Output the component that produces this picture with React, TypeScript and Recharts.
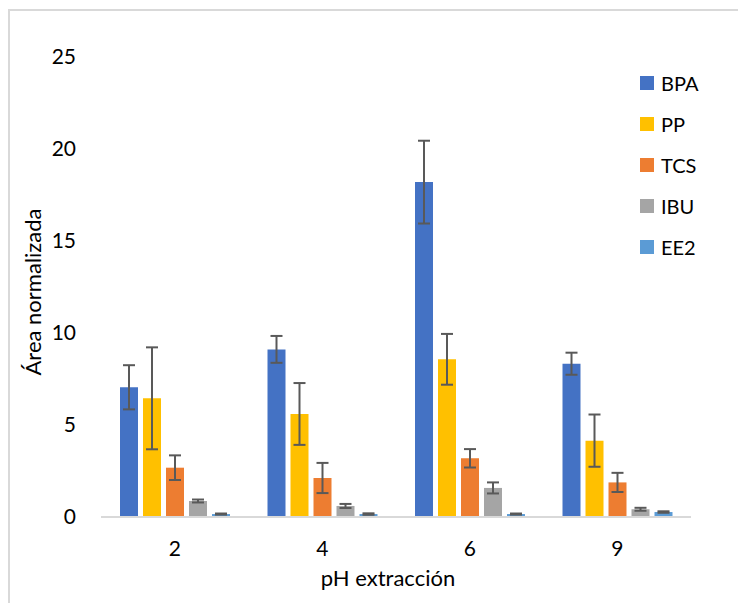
import React from 'react';
import { BarChart, Bar, XAxis, YAxis, ErrorBar } from 'recharts';

// ─── Data ─────────────────────────────────────────────────────────────────────

const categories = ['2', '4', '6', '9'];
const seriesNames = ['BPA', 'PP', 'TCS', 'IBU', 'EE2'];
const seriesColors = ['#4472C4', '#FFC000', '#ED7D31', '#A5A5A5', '#5B9BD5'];

const bpa = [7.05, 9.11, 18.2, 8.33];
const bpaErr = [1.2, 0.73, 2.25, 0.6];
const pp = [6.45, 5.6, 8.57, 4.15];
const ppErr = [2.77, 1.68, 1.38, 1.42];
const tcs = [2.68, 2.12, 3.19, 1.88];
const tcsErr = [0.67, 0.82, 0.5, 0.52];
const ibu = [0.87, 0.6, 1.58, 0.42];
const ibuErr = [0.08, 0.11, 0.3, 0.08];
const ee2 = [0.16, 0.16, 0.16, 0.27];
const ee2Err = [0.03, 0.04, 0.03, 0.04];

const yTicks = [0, 5, 10, 15, 20, 25];

const values = [bpa, pp, tcs, ibu, ee2];
const errors = [bpaErr, ppErr, tcsErr, ibuErr, ee2Err];

const data = categories.map((ph, i) => {
  const row: any = { ph };
  seriesNames.forEach((name, s) => {
    row[name] = values[s][i];
    row[`${name}_err`] = errors[s][i];
  });
  return row;
});

const FONT = 'Lato, "Open Sans", sans-serif';

// ─── Legend (HTML, so it doesn't shrink the plot) ─────────────────────────────

const LegendBox = () => (
  <div style={{ position: 'absolute', left: 640, top: 62, fontFamily: FONT }}>
    {seriesNames.map((name, i) => (
      <div key={name} style={{ display: 'flex', alignItems: 'center', height: 41 }}>
        <span style={{ width: 14, height: 14, background: seriesColors[i], marginRight: 7 }} />
        <span style={{ fontSize: 20, color: '#000' }}>{name}</span>
      </div>
    ))}
  </div>
);

export default function App() {
  return (
    <div style={{ position: 'absolute', left: 0, top: 0, width: 738, height: 603, overflow: 'hidden', background: '#fff' }}>
      <div
        style={{
          position: 'absolute',
          left: 8,
          top: 9,
          width: 760,
          height: 640,
          border: '2px solid #d9d9d9',
          boxSizing: 'border-box',
        }}
      />
      <BarChart
        width={738}
        height={603}
        data={data}
        margin={{ top: 57, right: 47, bottom: 56, left: 41 }}
        barSize={18}
        barGap={5}
        style={{ position: 'absolute', left: 0, top: 0, fontFamily: FONT }}
      >
        <XAxis
          dataKey="ph"
          height={30}
          axisLine={{ stroke: '#d9d9d9', strokeWidth: 2 }}
          tickLine={false}
          tickSize={0}
          tickMargin={24}
          tick={{ fontSize: 21, fill: '#000' }}
        />
        <YAxis
          width={60}
          domain={[0, 25]}
          ticks={yTicks}
          axisLine={false}
          tickLine={false}
          tickSize={0}
          tickMargin={25}
          tick={{ fontSize: 21, fill: '#000' }}
        />
        {seriesNames.map((name, i) => (
          <Bar key={name} dataKey={name} fill={seriesColors[i]} isAnimationActive={false}>
            <ErrorBar
              dataKey={`${name}_err`}
              width={6}
              stroke="#595959"
              strokeWidth={2}
              isAnimationActive={false}
            />
          </Bar>
        ))}
      </BarChart>
      <LegendBox />
      <div
        style={{
          position: 'absolute',
          left: 288,
          width: 200,
          top: 563,
          textAlign: 'center',
          fontFamily: FONT,
          fontSize: 22,
          color: '#000',
          lineHeight: '30px',
        }}
      >
        pH extracción
      </div>
      <div
        style={{
          position: 'absolute',
          left: 33,
          top: 292,
          transform: 'translate(-50%, -50%) rotate(-90deg)',
          whiteSpace: 'nowrap',
          fontFamily: FONT,
          fontSize: 22,
          color: '#000',
          lineHeight: '30px',
        }}
      >
        Área normalizada
      </div>
    </div>
  );
}
